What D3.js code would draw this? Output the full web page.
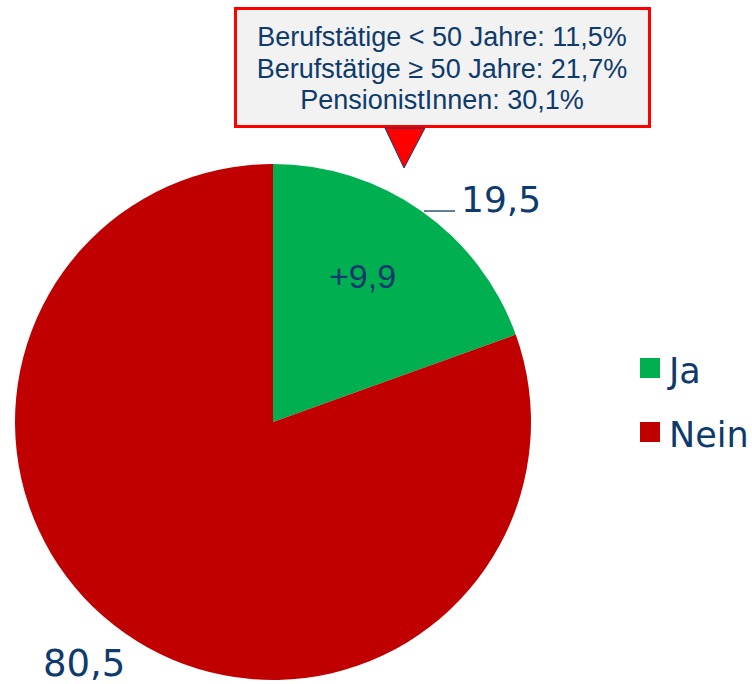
<!DOCTYPE html>
<html>
<head>
<meta charset="utf-8">
<script src="https://cdn.jsdelivr.net/npm/d3@7"></script>
<style>
  body { margin: 0; background: #fff; }
  svg { display: block; }
</style>
</head>
<body>
<svg id="chart" width="752" height="684"></svg>
<script>
// chart data
const categories = ["Ja", "Nein"];
const values = [19.5, 80.5];
const colors = ["#00B050", "#C00000"];
const changeLabel = "+9,9";
const calloutLines = [
  "Berufstätige < 50 Jahre: 11,5%",
  "Berufstätige ≥ 50 Jahre: 21,7%",
  "PensionistInnen: 30,1%"
];

const textColor = "#0E3A6C";
const fmt = v => String(v).replace(".", ",");

const svg = d3.select("#chart");
const cx = 273, cy = 422, r = 258;

const pie = d3.pie().sort(null).value(d => d.value);
const arc = d3.arc().innerRadius(0).outerRadius(r);
const data = categories.map((c, i) => ({name: c, value: values[i], color: colors[i]}));
const arcs = pie(data);

const g = svg.append("g").attr("transform", `translate(${cx},${cy})`);
g.selectAll("path")
  .data(arcs)
  .enter().append("path")
    .attr("d", arc)
    .attr("fill", d => d.data.color);

// value labels
const ja = arcs[0];
g.append("line")
  .attr("x1", 424 - cx).attr("x2", 455 - cx)
  .attr("y1", 211 - cy).attr("y2", 211 - cy)
  .attr("stroke", textColor).attr("stroke-width", 1.3);
g.append("text")
  .attr("x", 461 - cx).attr("y", 212 - cy)
  .attr("font-family", "DejaVu Sans, Verdana, sans-serif")
  .attr("font-size", 36).attr("fill", textColor)
  .text(fmt(ja.data.value));
g.append("text")
  .attr("x", 329 - cx).attr("y", 288 - cy)
  .attr("font-family", "Liberation Sans, Arial, sans-serif")
  .attr("font-size", 34).attr("fill", textColor)
  .text(changeLabel);
g.append("text")
  .attr("x", 43 - cx).attr("y", 676 - cy)
  .attr("font-family", "DejaVu Sans, Verdana, sans-serif")
  .attr("font-size", 37).attr("fill", textColor)
  .text(fmt(arcs[1].data.value));

// legend
const legend = svg.append("g").attr("transform", "translate(640,358)");
const items = legend.selectAll("g")
  .data(data)
  .enter().append("g")
    .attr("transform", (d, i) => `translate(0,${i * 64})`);
items.append("rect")
  .attr("width", 20).attr("height", 20)
  .attr("fill", d => d.color);
items.append("text")
  .attr("x", 29).attr("y", 25)
  .attr("font-family", "DejaVu Sans, Verdana, sans-serif")
  .attr("font-size", 35).attr("fill", textColor)
  .text(d => d.name);

// callout box
const callout = svg.append("g");
callout.append("rect")
  .attr("x", 235.5).attr("y", 8.5)
  .attr("width", 414).attr("height", 118)
  .attr("fill", "#F2F2F2")
  .attr("stroke", "#FF0000").attr("stroke-width", 3);
callout.append("path")
  .attr("d", "M385,128 L425,128 L404,168 Z")
  .attr("fill", "#FF0000")
  .attr("stroke", "#1F3864").attr("stroke-width", 1);
callout.selectAll("text")
  .data(calloutLines)
  .enter().append("text")
    .attr("x", 442).attr("y", (d, i) => 46 + i * 31.5)
    .attr("text-anchor", "middle")
    .attr("font-family", "Liberation Sans, Arial, sans-serif")
    .attr("font-size", 27).attr("fill", textColor)
    .text(d => d);
</script>
</body>
</html>
